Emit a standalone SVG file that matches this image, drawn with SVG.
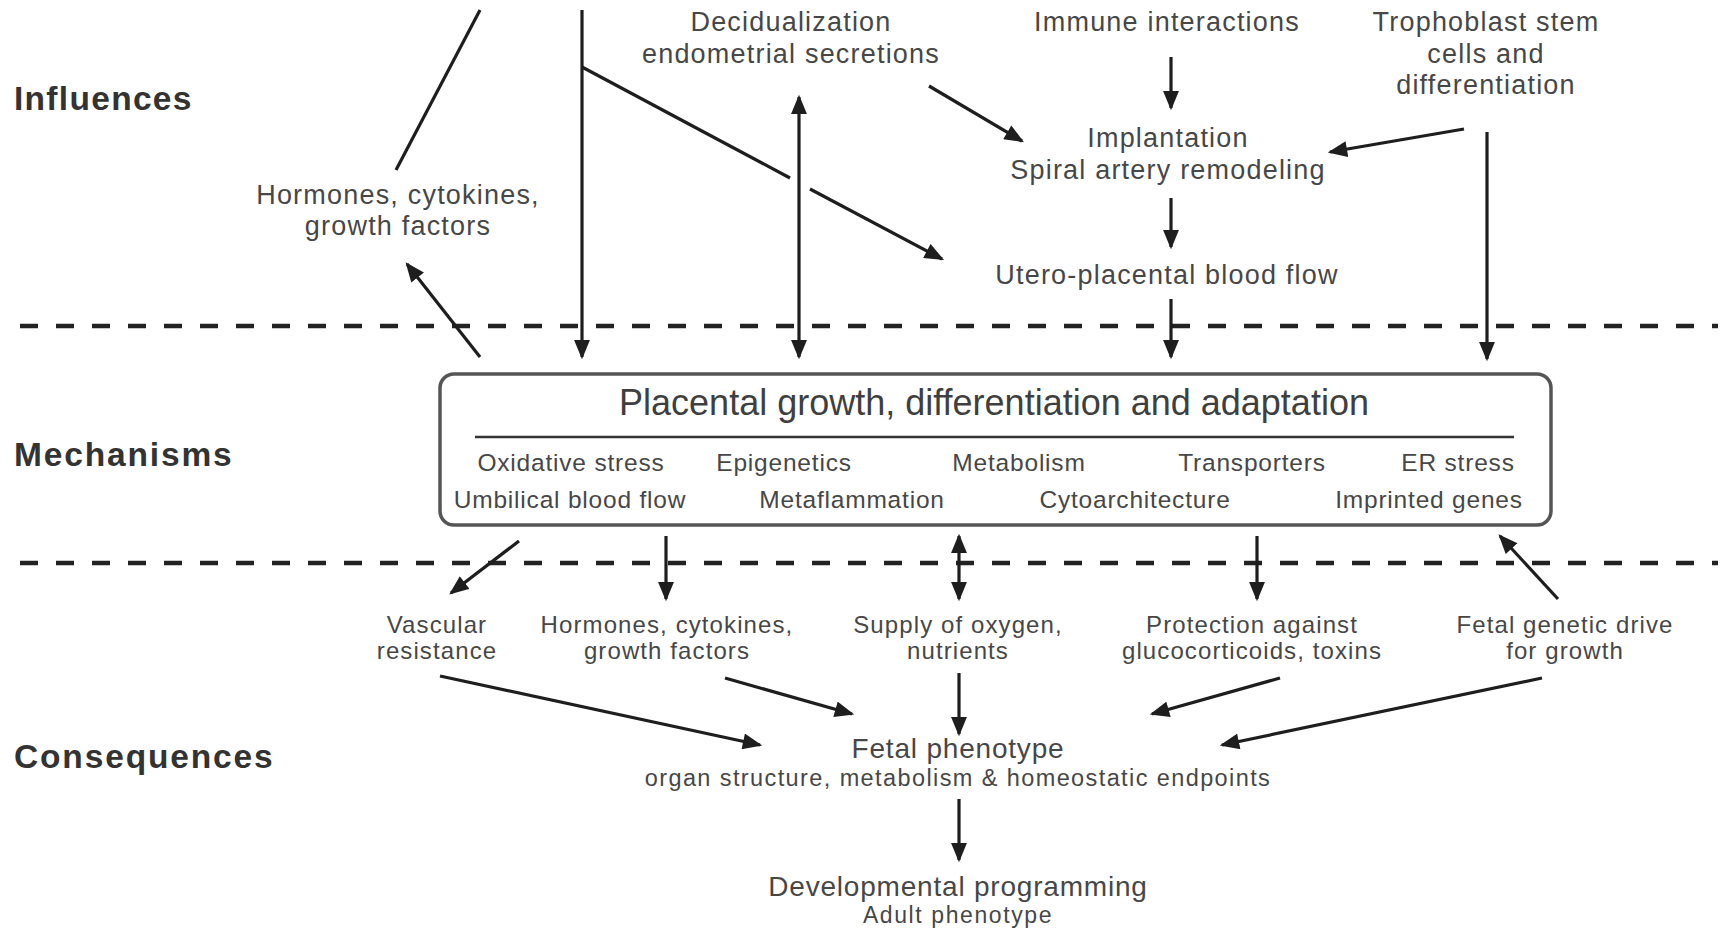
<svg xmlns="http://www.w3.org/2000/svg" width="1723" height="929" viewBox="0 0 1723 929">
<style>
text{font-family:"Liberation Sans",Arial,sans-serif;fill:#474747;text-anchor:middle}
.head{font-weight:bold;font-size:33.5px;letter-spacing:1.3px;fill:#333;text-anchor:start}
.wide{letter-spacing:1.85px}
.top{font-size:27px;letter-spacing:1.2px}
.title{font-size:36px;fill:#3f3f3f}
.inner{font-size:24.5px;letter-spacing:0.8px}
.bot{font-size:24px;letter-spacing:1.1px}
.big{font-size:28px;letter-spacing:0.8px}
.small{font-size:23.5px;letter-spacing:1.4px}
.ln{stroke:#1e1e1e;stroke-width:3.2;fill:none}
.arr{stroke:#1e1e1e;stroke-width:3.2;fill:none;marker-end:url(#ah)}
.darr{stroke:#1e1e1e;stroke-width:3.2;fill:none;marker-end:url(#ah);marker-start:url(#ah)}
.dash{stroke:#222;stroke-width:4.5;stroke-dasharray:18 18;fill:none}
</style>
<defs>
<marker id="ah" markerUnits="userSpaceOnUse" markerWidth="20" markerHeight="16" refX="15" refY="7" orient="auto-start-reverse" viewBox="0 0 17 14">
<path d="M0,0 L17,7 L0,14 Z" fill="#1e1e1e"/>
</marker>
</defs>
<rect width="1723" height="929" fill="#fff"/>

<g id="section-labels">
<text class="head" x="14" y="110">Influences</text>
<text class="head wide" x="14" y="466">Mechanisms</text>
<text class="head wide" x="14" y="768">Consequences</text>
</g>

<g id="dividers">
<line class="dash" x1="20" y1="326" x2="1718" y2="326"/>
<line class="dash" x1="20" y1="563" x2="1718" y2="563"/>
</g>

<g id="node-decidualization">
<text class="top" x="791" y="31">Decidualization</text>
<text class="top" x="791" y="63">endometrial secretions</text>
</g>
<g id="node-immune">
<text class="top" x="1167" y="31">Immune interactions</text>
</g>
<g id="node-trophoblast">
<text class="top" x="1486" y="31">Trophoblast stem</text>
<text class="top" x="1486" y="63">cells and</text>
<text class="top" x="1486" y="94">differentiation</text>
</g>
<g id="node-implantation">
<text class="top" x="1168" y="147">Implantation</text>
<text class="top" x="1168" y="179">Spiral artery remodeling</text>
</g>
<g id="node-utero">
<text class="top" x="1167" y="284">Utero-placental blood flow</text>
</g>
<g id="node-hormones-top">
<text class="top" x="398" y="204">Hormones, cytokines,</text>
<text class="top" x="398" y="235">growth factors</text>
</g>

<g id="node-placenta">
<rect x="440" y="374" width="1111" height="151" rx="14" fill="#fff" stroke="#555" stroke-width="3.5"/>
<text class="title" x="994" y="415">Placental growth, differentiation and adaptation</text>
<line x1="475" y1="437" x2="1514" y2="437" stroke="#333" stroke-width="2.5"/>
<text class="inner" x="571" y="471">Oxidative stress</text>
<text class="inner" x="784" y="471">Epigenetics</text>
<text class="inner" x="1019" y="471">Metabolism</text>
<text class="inner" x="1252" y="471">Transporters</text>
<text class="inner" x="1458" y="471">ER stress</text>
<text class="inner" x="570" y="508">Umbilical blood flow</text>
<text class="inner" x="852" y="508">Metaflammation</text>
<text class="inner" x="1135" y="508">Cytoarchitecture</text>
<text class="inner" x="1429" y="508">Imprinted genes</text>
</g>

<g id="node-vascular">
<text class="bot" x="437" y="633">Vascular</text>
<text class="bot" x="437" y="659">resistance</text>
</g>
<g id="node-hormones-bottom">
<text class="bot" x="667" y="633">Hormones, cytokines,</text>
<text class="bot" x="667" y="659">growth factors</text>
</g>
<g id="node-supply">
<text class="bot" x="958" y="633">Supply of oxygen,</text>
<text class="bot" x="958" y="659">nutrients</text>
</g>
<g id="node-protection">
<text class="bot" x="1252" y="633">Protection against</text>
<text class="bot" x="1252" y="659">glucocorticoids, toxins</text>
</g>
<g id="node-fetal-genetic">
<text class="bot" x="1565" y="633">Fetal genetic drive</text>
<text class="bot" x="1565" y="659">for growth</text>
</g>
<g id="node-fetal-phenotype">
<text class="big" x="958" y="758">Fetal phenotype</text>
<text class="small" x="958" y="786">organ structure, metabolism &amp; homeostatic endpoints</text>
</g>
<g id="node-programming">
<text class="big" x="958" y="896">Developmental programming</text>
<text class="small" x="958" y="923" style="font-size:23px;letter-spacing:1.6px">Adult phenotype</text>
</g>

<g id="connectors">
<line class="ln" x1="480" y1="10" x2="396" y2="170"/>
<line class="arr" x1="582" y1="10" x2="582" y2="357"/>
<line class="ln" x1="582" y1="67" x2="790" y2="178"/>
<line class="arr" x1="810" y1="189" x2="942" y2="259"/>
<line class="darr" x1="799" y1="97" x2="799" y2="357"/>
<line class="arr" x1="929" y1="86" x2="1022" y2="141"/>
<line class="arr" x1="1171" y1="57" x2="1171" y2="108"/>
<line class="arr" x1="1464" y1="129" x2="1330" y2="152"/>
<line class="arr" x1="1171" y1="198" x2="1171" y2="247"/>
<line class="arr" x1="1171" y1="299" x2="1171" y2="357"/>
<line class="arr" x1="1487" y1="132" x2="1487" y2="359"/>
<line class="arr" x1="480" y1="357" x2="407" y2="264"/>
<line class="arr" x1="519" y1="541" x2="451" y2="593"/>
<line class="arr" x1="666" y1="536" x2="666" y2="599"/>
<line class="darr" x1="959" y1="536" x2="959" y2="599"/>
<line class="arr" x1="1257" y1="536" x2="1257" y2="599"/>
<line class="arr" x1="1558" y1="599" x2="1500" y2="536"/>
<line class="arr" x1="440" y1="676" x2="760" y2="745"/>
<line class="arr" x1="725" y1="678" x2="852" y2="714"/>
<line class="arr" x1="959" y1="673" x2="959" y2="734"/>
<line class="arr" x1="1280" y1="678" x2="1152" y2="714"/>
<line class="arr" x1="1542" y1="678" x2="1222" y2="745"/>
<line class="arr" x1="959" y1="799" x2="959" y2="860"/>
</g>
</svg>
